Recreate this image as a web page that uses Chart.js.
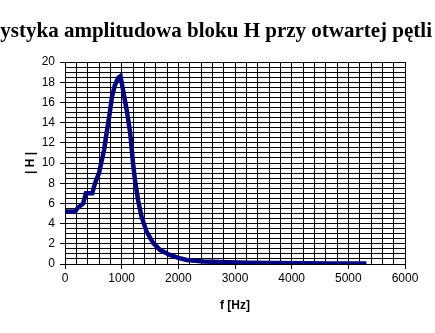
<!DOCTYPE html>
<html>
<head>
<meta charset="utf-8">
<script src="https://cdn.jsdelivr.net/npm/chart.js@4"></script>
<style>
  html, body { margin: 0; padding: 0; background: #fff; }
  #wrap { width: 435px; height: 333px; }
</style>
</head>
<body>
<div id="wrap"><canvas id="chart" width="435" height="333"></canvas></div>
<script>
// Frequency [Hz] and |H| values
const freqHz = [0, 180, 230, 320, 370, 480, 530, 600, 650, 690, 735, 780, 830, 880, 935, 980,
    1025, 1090, 1150, 1195, 1235, 1290, 1350, 1440, 1555, 1675, 1850, 2000, 2150, 2440,
    2735, 3200, 3700, 4200, 4700, 5320];
const gainH = [5.2, 5.2, 5.6, 6.0, 7.0, 7.0, 8.0, 9.0, 10.3, 11.3, 13.0, 14.6, 16.6, 17.7, 18.4, 18.6,
    17.2, 15.2, 13.0, 10.3, 8.3, 6.3, 4.7, 3.2, 2.1, 1.4, 0.9, 0.6, 0.4, 0.25,
    0.2, 0.13, 0.1, 0.08, 0.06, 0.05];

const chartTitle = 'Charakterystyka amplitudowa bloku H przy otwartej pętli';
const xTitle = 'f [Hz]';
const yTitle = '| H |';

// Title is wider than the canvas; draw it right-aligned like the reference
const titlePlugin = {
    id: 'titleText',
    afterDraw(chart) {
        const ctx = chart.ctx;
        ctx.save();
        ctx.font = 'bold 21px "Liberation Serif", serif';
        ctx.fillStyle = '#000';
        ctx.textAlign = 'right';
        ctx.textBaseline = 'alphabetic';
        ctx.fillText(chartTitle, 432, 37);
        ctx.restore();
    }
};

const points = freqHz.map((f, i) => ({ x: f, y: gainH[i] }));

const tickFont = { family: '"Liberation Sans", Arial, sans-serif', size: 12 };
const titleFont = { family: '"Liberation Sans", Arial, sans-serif', size: 12, weight: 'bold' };

new Chart(document.getElementById('chart').getContext('2d'), {
    type: 'line',
    data: {
        datasets: [{
            data: points,
            borderColor: '#000080',
            borderWidth: 4.5,
            pointRadius: 0,
            tension: 0,
            fill: false
        }]
    },
    options: {
        responsive: false,
        animation: false,
        layout: { padding: { left: 0, right: 30, top: 62, bottom: 0 } },
        plugins: {
            legend: { display: false },
            tooltip: { enabled: false }
        },
        scales: {
            x: {
                type: 'linear',
                min: 0,
                max: 6000,
                afterFit(scale) { scale.height = 69; },
                ticks: {
                    stepSize: 200,
                    autoSkip: false,
                    maxRotation: 0,
                    color: '#000',
                    font: tickFont,
                    padding: 2,
                    callback: v => (v % 1000 === 0 ? v : '')
                },
                grid: {
                    color: '#000',
                    lineWidth: 1,
                    tickLength: 5,
                    tickColor: c => (c.tick && c.tick.value % 1000 === 0 ? '#000' : 'rgba(0,0,0,0)')
                },
                border: { color: '#000', width: 1 },
                title: {
                    display: true,
                    text: xTitle,
                    color: '#000',
                    font: titleFont,
                    padding: { top: 0, bottom: 20 }
                }
            },
            y: {
                min: 0,
                max: 20,
                afterFit(scale) { scale.width = 65; },
                ticks: {
                    stepSize: 0.5,
                    autoSkip: false,
                    color: '#000',
                    font: tickFont,
                    padding: 5,
                    callback: v => (v % 2 === 0 ? v : '')
                },
                grid: {
                    color: '#000',
                    lineWidth: 1,
                    tickLength: 5,
                    tickColor: c => (c.tick && c.tick.value % 2 === 0 ? '#000' : 'rgba(0,0,0,0)')
                },
                border: { color: '#000', width: 1 },
                title: {
                    display: true,
                    text: yTitle,
                    color: '#000',
                    font: titleFont,
                    padding: { top: 23, bottom: 0 }
                }
            }
        }
    },
    plugins: [titlePlugin]
});
</script>
</body>
</html>
